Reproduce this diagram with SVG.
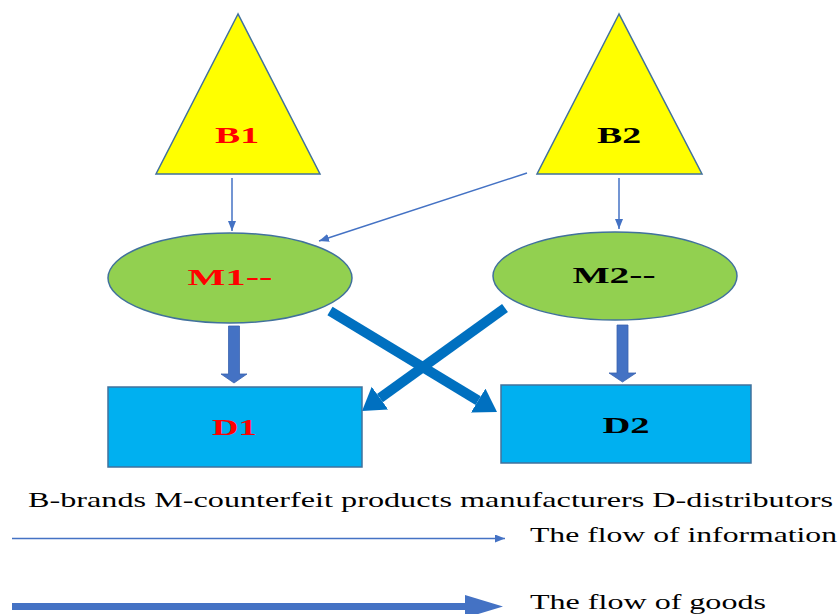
<svg xmlns="http://www.w3.org/2000/svg" width="840" height="614" viewBox="0 0 840 614">
<style>
.tri{fill:#FFFF00;stroke:#41719C;stroke-width:1.5}
.ell{fill:#92D050;stroke:#41719C;stroke-width:1.5}
.box{fill:#00B0F0;stroke:#41719C;stroke-width:1.5}
.lbl{font-family:"Liberation Serif","Times New Roman",serif;font-weight:bold;font-size:23px}
.red{fill:#FF0000}
.blk{fill:#000000}
.leg{font-family:"Liberation Serif","Times New Roman",serif;font-size:21px;fill:#000}
.thin{stroke:#4472C4;stroke-width:1.5;fill:none}
.goodsV{fill:#4472C4;stroke:#3B63AE;stroke-width:0.8}
.cross{stroke:#0070C0;stroke-width:10;fill:none}
</style>
<defs>
<marker id="ah" markerUnits="userSpaceOnUse" markerWidth="12" markerHeight="10" refX="10" refY="4" orient="auto">
<path d="M0,0 L10,4 L0,8 z" fill="#4472C4"/>
</marker>
<marker id="big" markerUnits="userSpaceOnUse" markerWidth="24" markerHeight="30" refX="0" refY="14" orient="auto">
<path d="M0,0 L22,14 L0,28 z" fill="#0070C0"/>
</marker>
</defs>

<g id="connectors">
<line class="thin" x1="232" y1="178" x2="232" y2="231" marker-end="url(#ah)"/>
<line class="thin" x1="619" y1="178" x2="619" y2="229" marker-end="url(#ah)"/>
<line class="thin" x1="527" y1="173" x2="319" y2="241" marker-end="url(#ah)"/>
<polygon class="goodsV" points="228.5,326 239.5,326 239.5,374 247,374 234,383 221,374 228.5,374"/>
<polygon class="goodsV" points="617,325 628,325 628,373 636,373 622.5,382 609,373 617,373"/>
<line class="cross" x1="330" y1="311" x2="478.2" y2="400.6" marker-end="url(#big)"/>
<line class="cross" x1="505" y1="308" x2="379.9" y2="398.1" marker-end="url(#big)"/>
</g>

<g id="B1">
<polygon class="tri" points="238,14 156,174 320,174"/>
<text class="lbl red" transform="translate(237,143) scale(1.6,1)" text-anchor="middle" textLength="27.5" lengthAdjust="spacingAndGlyphs">B1</text>
</g>
<g id="B2">
<polygon class="tri" points="619,14 537,174 702,174"/>
<text class="lbl blk" transform="translate(619,143) scale(1.6,1)" text-anchor="middle" textLength="27.5" lengthAdjust="spacingAndGlyphs">B2</text>
</g>
<g id="M1">
<ellipse class="ell" cx="230" cy="278" rx="122" ry="45"/>
<text class="lbl red" transform="translate(230,285) scale(1.6,1)" text-anchor="middle" textLength="53" lengthAdjust="spacingAndGlyphs">M1--</text>
</g>
<g id="M2">
<ellipse class="ell" cx="615" cy="276" rx="122" ry="44"/>
<text class="lbl blk" transform="translate(614,283) scale(1.6,1)" text-anchor="middle" textLength="52" lengthAdjust="spacingAndGlyphs">M2--</text>
</g>
<g id="D1">
<rect class="box" x="108" y="387" width="254" height="80"/>
<text class="lbl red" transform="translate(234.5,435) scale(1.6,1)" text-anchor="middle" textLength="28" lengthAdjust="spacingAndGlyphs">D1</text>
</g>
<g id="D2">
<rect class="box" x="501" y="385" width="250" height="78"/>
<text class="lbl blk" transform="translate(626,433) scale(1.6,1)" text-anchor="middle" textLength="29.5" lengthAdjust="spacingAndGlyphs">D2</text>
</g>

<g id="legend">
<text class="leg" transform="translate(28,507) scale(1.5,1)" textLength="536.7" lengthAdjust="spacingAndGlyphs">B-brands M-counterfeit products manufacturers D-distributors</text>
<line class="thin" x1="12" y1="538.5" x2="505" y2="538.5" marker-end="url(#ah)"/>
<text class="leg" transform="translate(530,542) scale(1.5,1)" textLength="204.7" lengthAdjust="spacingAndGlyphs">The flow of information</text>
<rect x="12" y="603" width="455" height="7" fill="#4472C4"/>
<polygon points="465,595 503,606.5 465,618" fill="#4472C4"/>
<text class="leg" transform="translate(530,609) scale(1.5,1)" textLength="157.3" lengthAdjust="spacingAndGlyphs">The flow of goods</text>
</g>
</svg>
